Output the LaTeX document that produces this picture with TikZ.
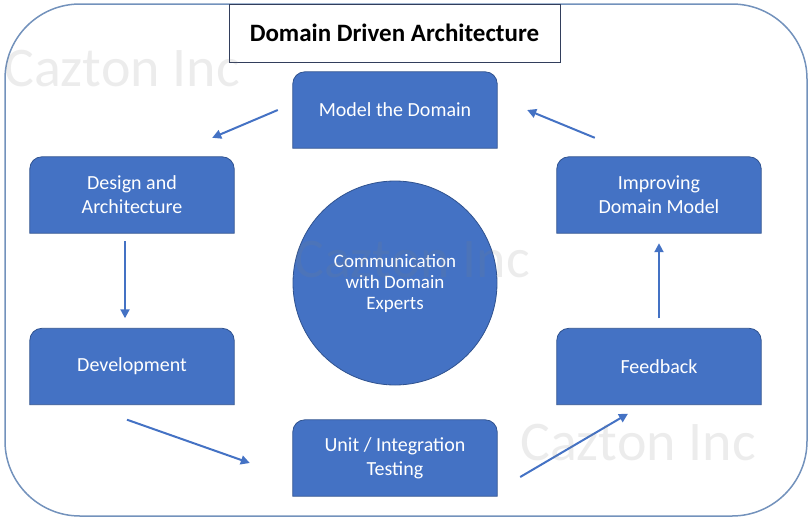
\documentclass[tikz,border=0pt]{standalone}
\usepackage{fontspec}
\setmainfont{Carlito}
\usetikzlibrary{arrows.meta,backgrounds}
\definecolor{boxblue}{RGB}{68,114,196}
\definecolor{boxedge}{RGB}{47,82,143}
\definecolor{framecol}{RGB}{115,146,188}
\definecolor{titleedge}{RGB}{50,62,92}
\begin{document}
\begin{tikzpicture}[x=1pt,y=-1pt,
  stage/.style={minimum width=204pt, minimum height=76pt, inner sep=0pt,
    text=white, align=center, font=\fontsize{20}{24}\selectfont},
  hub/.style={circle, minimum size=204pt, inner sep=0pt, fill=boxblue,
    draw=boxedge, line width=0.8pt, text=white, align=center,
    font=\fontsize{19}{21}\selectfont},
  flow/.style={draw=boxblue, line width=2pt, -{Triangle[length=9pt,width=9pt]}},
  wmark/.style={text=gray, opacity=0.15, inner sep=0pt, anchor=base west,
    font=\fontsize{56}{56}\selectfont}]
  \useasboundingbox (0,0) rectangle (812,520);
  \draw[framecol, line width=1.5pt, rounded corners=75pt] (5,4) rectangle (807,516);
  \node[draw=titleedge, fill=white, line width=1pt, minimum width=331pt,
    minimum height=58pt, font=\fontsize{25}{29}\selectfont\bfseries]
    (title) at (394.5,33) {Domain Driven Architecture};

  \node[stage] (model) at (395,110) {Model the Domain};
  \node[stage] (design) at (132,195) {Design and\\Architecture};
  \node[stage] (devel) at (132,366.5) {Development};
  \node[stage] (testing) at (395,458) {Unit / Integration\\Testing};
  \node[stage] (feedback) at (659,366.5) {Feedback};
  \node[stage] (improve) at (659,195) {Improving\\Domain Model};
  \node[hub] (comm) at (395,283) {Communication\\with Domain\\Experts};

  \begin{scope}[on background layer]
    \foreach \n in {model,design,devel,testing,feedback,improve}
      \filldraw[fill=boxblue, draw=boxedge, line width=0.8pt]
        (\n.south west) [rounded corners=12pt] -- (\n.north west) -- (\n.north east)
        [sharp corners] -- (\n.south east) -- cycle;
  \end{scope}

  \draw[flow] ([xshift=-15pt]model.west) -- ([xshift=-22pt,yshift=19pt]design.north east);
  \draw[flow] ([xshift=-7pt,yshift=-8pt]design.south) -- ([xshift=-7pt,yshift=10pt]devel.north);
  \draw[flow] ([xshift=-5pt,yshift=-15pt]devel.south) -- ([xshift=-43pt,yshift=-5pt]testing.west);
  \draw[flow] ([xshift=23pt,yshift=-19pt]testing.east) -- ([xshift=-31pt,yshift=-9pt]feedback.south);
  \draw[flow] ([yshift=10pt]feedback.north) -- ([yshift=-10pt]improve.south);
  \draw[flow] ([xshift=38pt,yshift=19pt]improve.north west) -- ([xshift=30pt]model.east);

  \node[wmark] (wm1) at (4,86) {Cazton Inc};
  \node[wmark] (wm2) at (294,277) {Cazton Inc};
  \node[wmark] (wm3) at (520,460) {Cazton Inc};
\end{tikzpicture}
\end{document}
